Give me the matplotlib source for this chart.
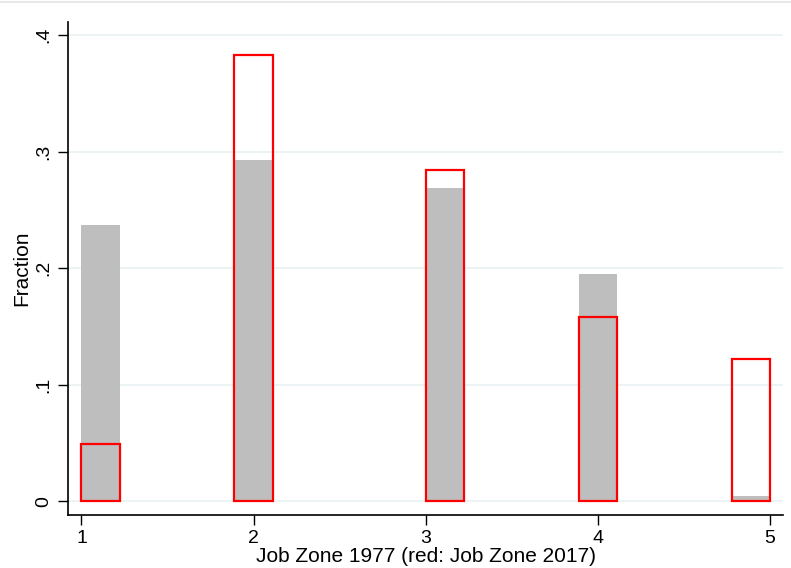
import matplotlib.pyplot as plt
import numpy as np

plt.rcParams['font.family'] = ['Liberation Sans', 'DejaVu Sans']

# histogram bins: 18 bins of width 4/18 starting at 1
bin_width = 4 / 18
bin_left = [1.0, 1 + 4 * bin_width, 1 + 9 * bin_width, 1 + 13 * bin_width, 1 + 17 * bin_width]
frac_1977 = [0.237, 0.293, 0.269, 0.195, 0.005]
frac_2017 = [0.049, 0.383, 0.284, 0.158, 0.122]
xticks = [1, 2, 3, 4, 5]
yticks = [0, 0.1, 0.2, 0.3, 0.4]
ylabels = ['0', '.1', '.2', '.3', '.4']

W, H = 791, 568
fig = plt.figure(figsize=(W / 100, H / 100), dpi=100)
ax = fig.add_axes([68 / W, 1 - 515 / H, (783 - 68) / W, (515 - 22) / H])

ax.bar(bin_left, frac_1977, width=bin_width, align='edge', color='#bebebe', zorder=2)
ax.bar(bin_left, frac_2017, width=bin_width, align='edge', fill=False,
       edgecolor='red', linewidth=1.6, zorder=3)

ax.set_xlim(0.9216, 5.0756)
ax.set_ylim(-0.0116, 0.4111)
ax.set_xticks(xticks)
ax.set_yticks(yticks)
ax.set_yticklabels(ylabels, rotation=90, va='center')
ax.tick_params(labelsize=14, length=7, width=1, direction='out', pad=4)
ax.grid(axis='y', color='#eaf2f3', linewidth=1.3, zorder=0)
ax.set_axisbelow(True)

for s in ['top', 'right']:
    ax.spines[s].set_visible(False)
for s in ['left', 'bottom']:
    ax.spines[s].set_linewidth(1.2)

ax.set_ylabel('Fraction', fontsize=15, labelpad=3)
ax.set_xlabel('Job Zone 1977 (red: Job Zone 2017)', fontsize=15, labelpad=0)

fig.add_artist(plt.Line2D([0, 1], [1 - 1.5 / H, 1 - 1.5 / H], color='#e8e8e8', linewidth=1.5))

fig.savefig('out.png', dpi=100)
